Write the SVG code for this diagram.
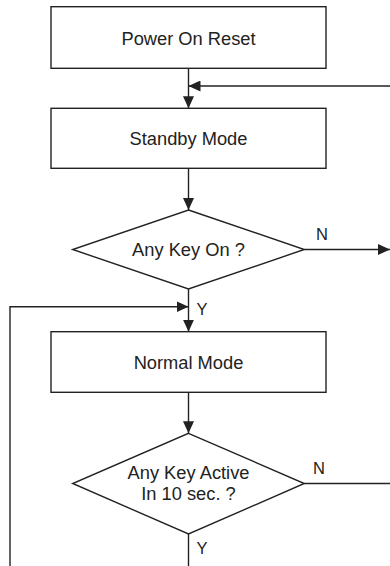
<svg xmlns="http://www.w3.org/2000/svg" width="390" height="566" viewBox="0 0 390 566">
<style>
.box{fill:#fff;stroke:#222;stroke-width:1.4}
.ln{fill:none;stroke:#222;stroke-width:1.4}
.t{font-family:"Liberation Sans",Arial,sans-serif;font-size:18.3px;fill:#222;text-anchor:middle}
.lb{font-family:"Liberation Sans",Arial,sans-serif;font-size:16.5px;fill:#222}
</style>
<defs>
<marker id="ah" markerUnits="userSpaceOnUse" markerWidth="12" markerHeight="11" viewBox="0 0 12 11" refX="12" refY="5.5" orient="auto">
<path d="M0,0 L12,5.5 L0,11 z" fill="#222"/>
</marker>
</defs>
<g id="connectors">
<line class="ln" x1="188.5" y1="68.3" x2="188.5" y2="108.3" marker-end="url(#ah)"/>
<line class="ln" x1="390" y1="86" x2="188.5" y2="86" marker-end="url(#ah)"/>
<line class="ln" x1="188.5" y1="168.3" x2="188.5" y2="210" marker-end="url(#ah)"/>
<line class="ln" x1="304.3" y1="249.5" x2="390" y2="249.5" marker-end="url(#ah)"/>
<line class="ln" x1="188.5" y1="289" x2="188.5" y2="331.7" marker-end="url(#ah)"/>
<polyline class="ln" points="10,566 10,306.7 188.5,306.7" marker-end="url(#ah)"/>
<line class="ln" x1="188.5" y1="392.3" x2="188.5" y2="433.3" marker-end="url(#ah)"/>
<line class="ln" x1="304.3" y1="483.5" x2="390" y2="483.5"/>
<line class="ln" x1="188.5" y1="534" x2="188.5" y2="566"/>
<text class="lb" x="316" y="240">N</text>
<text class="lb" x="196.5" y="315">Y</text>
<text class="lb" x="313" y="474">N</text>
<text class="lb" x="196.5" y="554">Y</text>
</g>
<g id="power-on-reset">
<rect class="box" x="51" y="6.7" width="275" height="61.6"/>
<text class="t" x="188.5" y="44.5">Power On Reset</text>
</g>
<g id="standby-mode">
<rect class="box" x="51" y="108.3" width="275" height="60"/>
<text class="t" x="188.5" y="144.5">Standby Mode</text>
</g>
<g id="any-key-on">
<polygon class="box" points="188.5,210 304.3,249.5 188.5,289 72.7,249.5"/>
<text class="t" x="188.5" y="256">Any Key On ?</text>
</g>
<g id="normal-mode">
<rect class="box" x="51" y="331.7" width="275" height="60.6"/>
<text class="t" x="188.5" y="368.5">Normal Mode</text>
</g>
<g id="any-key-active">
<polygon class="box" points="188.5,433.3 304.3,483.5 188.5,534 72.7,483.5"/>
<text class="t" x="188.5" y="479.3">Any Key Active</text>
<text class="t" x="188.5" y="500.3">In 10 sec. ?</text>
</g>
</svg>
